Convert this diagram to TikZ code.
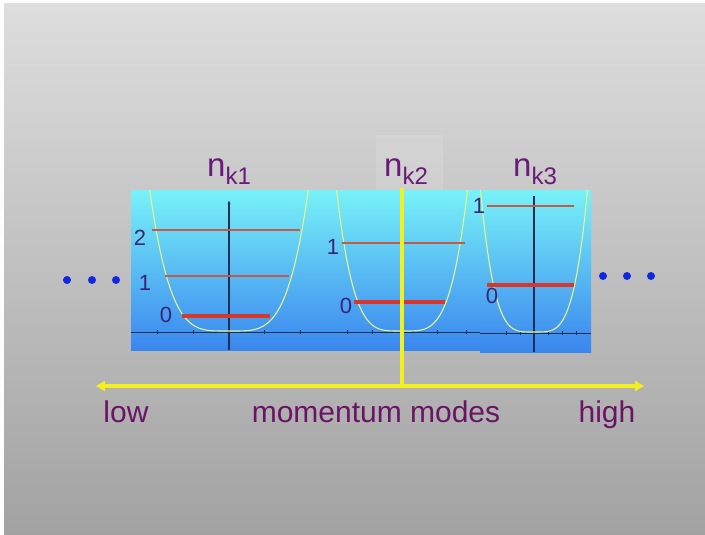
\documentclass[tikz,border=0pt]{standalone}
\usepackage{fontspec}
\setmainfont{Liberation Sans}
\usetikzlibrary{arrows.meta}
\definecolor{bgtop}{HTML}{DEDEDE}
\definecolor{bgbot}{HTML}{A2A2A2}
\definecolor{pantop}{HTML}{78F2F8}
\definecolor{panbot}{HTML}{3A86EE}
\definecolor{titlecol}{HTML}{6A1A78}
\definecolor{levcol}{HTML}{3A2478}
\definecolor{axcol}{HTML}{6A1466}
\definecolor{redlev}{HTML}{D8382C}
\definecolor{brlev}{HTML}{C45A48}
\definecolor{curvecol}{HTML}{E4F488}
\definecolor{axiscol}{HTML}{1E2E55}
\definecolor{ylw}{HTML}{F4F020}
\definecolor{dotcol}{HTML}{1028E0}
\tikzset{
  title/.style={inner sep=0pt, anchor=base west, text=titlecol, font=\fontsize{33}{33}\selectfont},
  levlab/.style={inner sep=0pt, text=levcol, font=\fontsize{22}{22}\selectfont},
  bottomlab/.style={inner sep=0pt, anchor=base, text=axcol, font=\fontsize{30}{30}\selectfont},
  groundlev/.style={redlev, line width=3.2pt},
  uplev/.style={brlev, line width=1.4pt},
  wellcurve/.style={curvecol, line width=1.1pt},
  axisline/.style={axiscol, line width=0.9pt},
  yline/.style={ylw, line width=4pt},
  dot/.style={circle, fill=dotcol, inner sep=0pt, minimum size=8pt}
}
\begin{document}
\begin{tikzpicture}[x=1pt, y=-1pt]
\useasboundingbox (0,0) rectangle (705,535);
% background
\shade[top color=bgtop, bottom color=bgbot] (0,0) rectangle (705,535);
\fill[white!95!bgtop] (0,0) rectangle (4,535);
\fill[white!95!bgtop] (0,0) rectangle (705,3);
\fill[white, opacity=0.12] (376,135) rectangle (443,190);
% panels
\shade[top color=pantop, bottom color=panbot] (131,190) rectangle (483,350);
\shade[top color=pantop, bottom color=panbot] (480,190) rectangle (591,352);
% panel 1 and 2
\begin{scope}
\clip (131,190) rectangle (480,350);
\draw[axisline] (131,332) -- (480,332);
\foreach \t in {157,193,264,300,347,372,437,466} \draw[axisline, line width=0.6pt] (\t,330) -- (\t,334);
\draw[axisline, line width=1.2pt, -{Latex[length=4pt,width=3pt]}] (229,350) -- (229,200);
\draw[axisline, line width=1.2pt] (402,350) -- (402,190);
\draw[wellcurve] plot[domain=-82:82, samples=90, smooth] ({229+\x},{331-(\x/23)*(\x/23)*(\x/23)*(\x/23)});
\draw[wellcurve] plot[domain=-68:68, samples=90, smooth] ({402+\x},{331-(\x/19)*(\x/19)*(\x/19)*(\x/19)});
\end{scope}
% panel 3
\begin{scope}
\clip (480,190) rectangle (591,352);
\draw[axisline] (480,333) -- (591,333);
\foreach \t in {506,520,548,562,576} \draw[axisline, line width=0.6pt] (\t,331) -- (\t,335);
\draw[axisline, line width=1.2pt] (534,352) -- (534,196);
\draw[wellcurve] plot[domain=-58:58, samples=90, smooth] ({534+\x},{332-(\x/15.5)*(\x/15.5)*(\x/15.5)*(\x/15.5)});
\end{scope}
% levels
\draw[groundlev] (182,316) -- (270,316);
\draw[uplev] (165,276) -- (289,276);
\draw[uplev] (152,230) -- (300,230);
\draw[groundlev] (354,302) -- (445,302);
\draw[uplev] (342,243) -- (465,243);
\draw[groundlev] (487,285) -- (574,285);
\draw[uplev] (487,206) -- (574,206);
% level labels
\node[levlab] (a2) at (140,238) {2};
\node[levlab] (a1) at (145,283) {1};
\node[levlab] (a0) at (166,315) {0};
\node[levlab] (b1) at (333,247) {1};
\node[levlab] (b0) at (346,306) {0};
\node[levlab] (c1) at (479,206) {1};
\node[levlab] (c0) at (492,296) {0};
% titles
\node[title] (nk1) at (207,176) {n\raisebox{-8pt}{\fontsize{24}{24}\selectfont k1}};
\node[title] (nk2) at (384,176) {n\raisebox{-8pt}{\fontsize{24}{24}\selectfont k2}};
\node[title] (nk3) at (513,176) {n\raisebox{-8pt}{\fontsize{24}{24}\selectfont k3}};
% dots
\node[dot] (l1) at (67,280) {};
\node[dot] (l2) at (92,280) {};
\node[dot] (l3) at (116,280) {};
\node[dot] (r1) at (603,276) {};
\node[dot] (r2) at (627,276) {};
\node[dot] (r3) at (651,276) {};
% yellow axis
\coordinate (T) at (402,188);
\coordinate (J) at (402,386);
\coordinate (L) at (96,386);
\coordinate (R) at (644,386);
\draw[yline] (T) -- (J);
\draw[yline, {Triangle[length=9pt,width=10pt]}-{Triangle[length=9pt,width=10pt]}] (L) -- (R);
% bottom labels
\node[bottomlab] (low) at (126,422) {low};
\node[bottomlab] (mm) at (376,422) {momentum modes};
\node[bottomlab] (high) at (607,422) {high};
\end{tikzpicture}
\end{document}
